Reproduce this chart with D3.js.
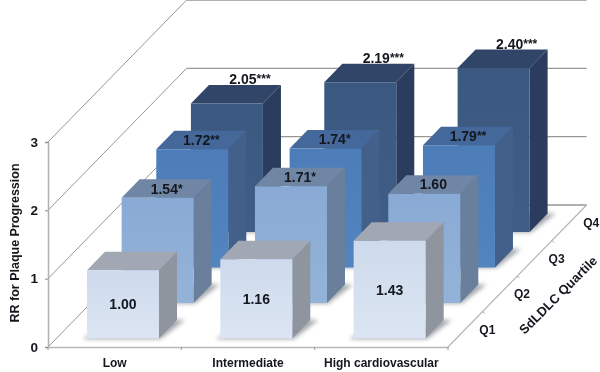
<!DOCTYPE html>
<html>
<head>
<meta charset="utf-8">
<script src="https://cdn.jsdelivr.net/npm/d3@7"></script>
<style>
    html, body { margin: 0; padding: 0; background: #fff; }
    svg { filter: blur(0.35px); }
    text { font-family: "Liberation Sans", Arial, sans-serif; font-weight: bold; fill: #14171d; }
</style>
</head>
<body>
<div id="chart"></div>
<script>
const categories = ["Low", "Intermediate", "High cardiovascular"];
const quartiles = ["Q1", "Q2", "Q3", "Q4"];
const yTicks = [0, 1, 2, 3];

// bar heights as drawn. The Low/Q4 bar is drawn lower than its 2.05 label says
const q1Values = [1.00, 1.16, 1.43];
const q2Values = [1.54, 1.71, 1.60];
const q3Values = [1.73, 1.74, 1.79];
const q4Values = [1.88, 2.19, 2.40];

const q1Labels = ["1.00", "1.16", "1.43"];
const q2Labels = ["1.54*", "1.71*", "1.60"];
const q3Labels = ["1.72**", "1.74*", "1.79**"];
const q4Labels = ["2.05***", "2.19***", "2.40***"];

const seriesValues = [q1Values, q2Values, q3Values, q4Values];
const seriesLabels = [q1Labels, q2Labels, q3Labels, q4Labels];

const faceColors = [
    { front: ["#cedaec", "#dbe5f3"], top: "#a1a7b3", side: "#8f959f" },
    { front: ["#89aad4", "#94b3d9"], top: "#6f86a5", side: "#6a7f9b" },
    { front: ["#4c7db8", "#5284bf"], top: "#44689a", side: "#42608a" },
    { front: ["#3b5880", "#405d87"], top: "#304567", side: "#2c3c5e" }
];

const width = 600, height = 372;
const origin = { x: 48, y: 347 };
const floorWidth = 400;
const depthVector = { x: 138.6, y: -142 };

const svg = d3.select("#chart")
    .append("svg")
    .attr("width", width)
    .attr("height", height);

const defs = svg.append("defs");
defs.append("filter").attr("id", "shadowBlur")
    .attr("x", "-30%").attr("y", "-30%").attr("width", "160%").attr("height", "160%")
    .append("feGaussianBlur").attr("stdDeviation", 2);

faceColors.forEach((c, i) => {
    const grad = defs.append("linearGradient").attr("id", `front${i}`)
        .attr("x1", 0).attr("y1", 0).attr("x2", 0).attr("y2", 1);
    grad.append("stop").attr("offset", "0%").attr("stop-color", c.front[0]);
    grad.append("stop").attr("offset", "100%").attr("stop-color", c.front[1]);
});

// Scales: one for each of the three directions
const x = d3.scaleBand()
    .domain(categories)
    .range([0, floorWidth])
    .paddingInner(0.46)
    .paddingOuter(0.23);

const y = d3.scaleLinear()
    .domain([0, 3])
    .range([origin.y, 142]);

const depth = d3.scaleBand()
    .domain(quartiles)
    .range([0, 1])
    .paddingInner(0.48)
    .paddingOuter(0.24);

// 3D position -> screen position
const project = (px, value, d) => [
    origin.x + px + d * depthVector.x,
    y(value) + d * depthVector.y
];
const poly = (pts) => pts.map(p => p.join(",")).join(" ");

const gridColor = "#969696";

// Back wall lines and the diagonals that run into them
const grid = svg.append("g").attr("class", "grid");
yTicks.forEach(t => {
    const [x0, y0] = project(0, t, 0);
    const [x1, y1] = project(0, t, 1);
    const [x2] = project(floorWidth, t, 1);
    grid.append("line")
        .attr("x1", x0).attr("y1", y0).attr("x2", x1).attr("y2", y1)
        .attr("stroke", gridColor).attr("stroke-width", 1);
    grid.append("line")
        .attr("x1", x1).attr("y1", y1).attr("x2", x2).attr("y2", y1)
        .attr("stroke", gridColor).attr("stroke-width", 1.4);
});

// Floor edges
const [fx0, fy0] = project(floorWidth, 0, 0);
const [fx1, fy1] = project(floorWidth, 0, 1);
grid.append("line")
    .attr("x1", fx0).attr("y1", fy0).attr("x2", fx1).attr("y2", fy1)
    .attr("stroke", "#b5b5b5").attr("stroke-width", 1.2);
quartiles.forEach((q, i) => {
    if (i === 0) return;
    const [tx, ty] = project(floorWidth, 0, i / quartiles.length);
    grid.append("line")
        .attr("x1", tx).attr("y1", ty).attr("x2", tx + 2).attr("y2", ty + 2)
        .attr("stroke", "#a0a0a0");
});

// Axes
const yAxis = svg.append("g")
    .attr("transform", `translate(${origin.x},0)`)
    .call(d3.axisLeft(y).tickValues(yTicks).tickFormat(d3.format("d")).tickSize(3).tickPadding(7));
yAxis.select(".domain").attr("stroke", "#b0b0b0").attr("stroke-width", 1.5);
yAxis.selectAll(".tick line").attr("stroke", "#8a8a8a");
yAxis.selectAll("text").style("font-size", "13.5px");

const xAxis = svg.append("g")
    .attr("transform", `translate(${origin.x},${origin.y})`)
    .call(d3.axisBottom(x).tickSize(0).tickPadding(11));
xAxis.select(".domain").attr("stroke", "#b8b8b8").attr("stroke-width", 1.5);
xAxis.selectAll("text").style("font-size", "12px");
d3.range(categories.length + 1).forEach(i => {
    xAxis.append("line")
        .attr("x1", i * x.step()).attr("x2", i * x.step())
        .attr("y1", 0).attr("y2", 3)
        .attr("stroke", "#999");
});

// Bars, from the back row to the front one
const bars = svg.append("g").attr("class", "bars");
d3.range(quartiles.length - 1, -1, -1).forEach(row => {
    const q = quartiles[row];
    const d0 = depth(q), d1 = d0 + depth.bandwidth();
    const colors = faceColors[row];

    categories.forEach((cat, col) => {
        const v = seriesValues[row][col];
        const x0 = x(cat), x1 = x0 + x.bandwidth();
        const g = bars.append("g");

        // soft shadow on the floor
        const bl = project(x0 - 4, 0, d0 - 0.004);
        const br = project(x1 + 2, 0, d0 - 0.004);
        const tr = project(x1 + 8, 0, d1);
        const tl = project(x0 + 10, 0, d1);
        g.append("polygon")
            .attr("points", poly([bl, br, tr, tl]))
            .attr("fill", "#5a5f68")
            .attr("opacity", 0.55)
            .attr("filter", "url(#shadowBlur)");

        // top, side, front
        g.append("polygon")
            .attr("points", poly([project(x0, v, d0), project(x1, v, d0), project(x1, v, d1), project(x0, v, d1)]))
            .attr("fill", colors.top);
        g.append("polygon")
            .attr("points", poly([project(x1, 0, d0), project(x1, 0, d1), project(x1, v, d1), project(x1, v, d0)]))
            .attr("fill", colors.side);
        g.append("polygon")
            .attr("points", poly([project(x0, 0, d0), project(x1, 0, d0), project(x1, v, d0), project(x0, v, d0)]))
            .attr("fill", `url(#front${row})`);
    });
});

// Value labels: front face on Q1, top face on Q2/Q3, above the bar on Q4
const labelLayer = svg.append("g").attr("class", "labels");
seriesLabels.forEach((labels, row) => {
    const q = quartiles[row];
    const d0 = depth(q), d1 = d0 + depth.bandwidth();
    labels.forEach((label, col) => {
        const cat = categories[col];
        const v = seriesValues[row][col];
        const cx = x(cat) + x.bandwidth() / 2;
        let pos;
        if (row === 0) pos = project(cx, v / 2, d0);
        else if (row === 3) pos = project(cx + 5, v, d1);
        else pos = project(cx, v, (d0 + d1) / 2);
        if (row === 3) pos[1] -= 6;

        const number = label.replace(/\*/g, "");
        const stars = label.slice(number.length);
        const t = labelLayer.append("text")
            .attr("x", pos[0]).attr("y", pos[1])
            .attr("dy", "0.36em")
            .attr("text-anchor", "middle")
            .style("font-size", "14px");
        t.append("tspan").text(number);
        if (stars) {
            t.append("tspan").attr("dy", "-1px").style("font-size", "12px").text(stars);
        }
    });
});

// Quartile labels along the right floor edge
const quartileLabels = svg.append("g");
quartiles.forEach((q, i) => {
    const d = (i + 0.5) / quartiles.length;
    const [qx, qy] = project(floorWidth, 0, d);
    quartileLabels.append("text")
        .attr("x", qx + 22).attr("y", qy)
        .attr("dy", "0.36em")
        .attr("text-anchor", "middle")
        .style("font-size", "12px")
        .text(q);
});

// Axis titles
svg.append("text")
    .attr("transform", "translate(14,243) rotate(-90)")
    .attr("text-anchor", "middle")
    .attr("dy", "0.36em")
    .style("font-size", "12.5px")
    .text("RR for Plaque Progression");

svg.append("text")
    .attr("transform", "translate(558,295) rotate(-45)")
    .attr("text-anchor", "middle")
    .attr("dy", "0.36em")
    .style("font-size", "13px")
    .text("SdLDLC Quartile");
</script>
</body>
</html>
